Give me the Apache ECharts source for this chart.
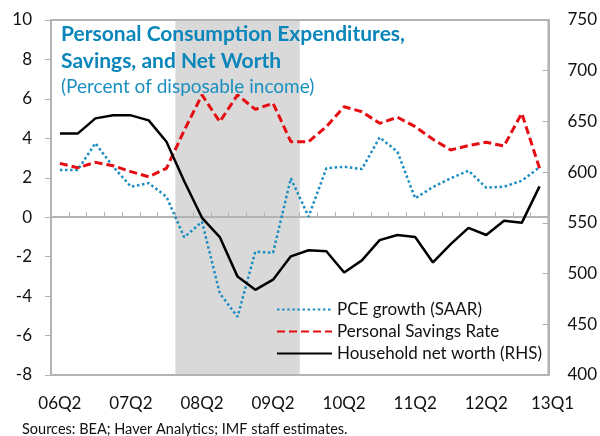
<!DOCTYPE html>
<html>
<head>
<meta charset="utf-8">
<script src="https://cdn.jsdelivr.net/npm/echarts@6/dist/echarts.min.js"></script>
<style>
  html, body { margin: 0; padding: 0; background: #fff; }
  #chart { width: 600px; height: 436px; }
</style>
</head>
<body>
<div id="chart"></div>
<script>
// quarters 06Q2 .. 13Q1
var quarters = ['06Q2', '06Q3', '06Q4', '07Q1', '07Q2', '07Q3', '07Q4',
  '08Q1', '08Q2', '08Q3', '08Q4', '09Q1', '09Q2', '09Q3', '09Q4',
  '10Q1', '10Q2', '10Q3', '10Q4', '11Q1', '11Q2', '11Q3', '11Q4',
  '12Q1', '12Q2', '12Q3', '12Q4', '13Q1']

var pceGrowth = [2.39, 2.39, 3.75, 2.56, 1.55, 1.73, 1.04, -1.02, -0.23, -3.86, -5.05, -1.75, -1.8, 1.97,
  0.03, 2.48, 2.56, 2.44, 4.05, 3.32, 0.96, 1.53, 1.97, 2.36, 1.5, 1.55, 1.85, 2.53]

var savingsRate = [2.73, 2.51, 2.78, 2.61, 2.31, 2.05, 2.48, 4.4, 6.2, 4.84, 6.2, 5.47, 5.78, 3.83,
  3.83, 4.59, 5.6, 5.35, 4.76, 5.07, 4.59, 3.95, 3.41, 3.63, 3.8, 3.61, 5.27, 2.48]

var netWorth = [638, 638, 653, 656, 656, 651, 630, 591, 555, 536, 497, 484, 494, 517,
  523, 522, 501, 513, 533, 538, 536, 511, 529, 545, 538, 552, 550, 586]

// recession shading, first and last quarter covered
var recessionStart = '08Q1'
var recessionEnd = '09Q3'

var leftTicks = [-8, -6, -4, -2, 0, 2, 4, 6, 8, 10]
var rightTicks = [400, 450, 500, 550, 600, 650, 700, 750]

var font = 'Lato'
var gray = '#b3b3b3'

var chart = echarts.init(document.getElementById('chart'))

var option = {
  animation: false,
  title: {
    text: 'Personal Consumption Expenditures,\nSavings, and Net Worth',
    subtext: '(Percent of disposable income)',
    left: 61,
    top: 21,
    padding: 0,
    itemGap: 0,
    textStyle: { fontFamily: font, fontWeight: 'bold', fontSize: 21, lineHeight: 27, color: '#0b86bb' },
    subtextStyle: { fontFamily: font, fontSize: 19, lineHeight: 24, color: '#1a8fc0' }
  },
  legend: {
    data: ['PCE growth (SAAR)', 'Personal Savings Rate', 'Household net worth (RHS)'],
    orient: 'vertical',
    left: 276,
    top: 301,
    padding: 0,
    itemWidth: 55,
    itemHeight: 14,
    itemGap: 5,
    itemStyle: { opacity: 0 },
    textStyle: { fontFamily: font, fontSize: 17, color: '#111' }
  },
  graphic: [{
    type: 'text',
    left: 22,
    top: 422,
    style: { text: 'Sources: BEA; Haver Analytics; IMF staff estimates.', font: '14.5px Lato', fill: '#111' }
  }],
  grid: {
    left: 51,
    right: 51,
    top: 20,
    bottom: 61,
    show: true,
    borderColor: gray,
    borderWidth: 2
  },
  xAxis: [{
    type: 'category',
    data: quarters,
    boundaryGap: true,
    axisLine: { show: false, onZero: false },
    axisTick: { show: false },
    axisLabel: {
      interval: function (i) { return i % 4 === 0 || i === quarters.length - 1 },
      margin: 20,
      fontFamily: font,
      fontSize: 17,
      color: '#111',
      formatter: function (v) { return v === '13Q1' ? '{last|' + v + '}' : v },
      rich: { last: { padding: [0, 0, 0, 26], fontFamily: font, fontSize: 17, color: '#111' } }
    }
  }, {
    type: 'category',
    data: quarters,
    boundaryGap: true,
    position: 'bottom',
    z: 3,
    axisLine: { onZero: true, onZeroAxisIndex: 0, lineStyle: { color: gray, width: 2 } },
    axisTick: { show: true, inside: true, length: 5, interval: 0, lineStyle: { color: gray, width: 1 } },
    axisLabel: { show: false }
  }, {
    type: 'value',
    min: 0,
    max: quarters.length,
    show: false
  }],
  yAxis: [{
    type: 'value',
    min: leftTicks[0],
    max: leftTicks[leftTicks.length - 1],
    interval: 2,
    axisLine: { show: true, lineStyle: { color: gray, width: 2 } },
    axisTick: { show: true, length: 6, lineStyle: { color: gray, width: 1 } },
    splitLine: { show: false },
    axisLabel: { margin: 19, fontFamily: font, fontSize: 17, color: '#111' }
  }, {
    type: 'value',
    position: 'right',
    min: rightTicks[0],
    max: rightTicks[rightTicks.length - 1],
    interval: 50,
    axisLine: { show: true, lineStyle: { color: gray, width: 2 } },
    axisTick: { show: true, inside: true, length: 6, lineStyle: { color: gray, width: 1 } },
    splitLine: { show: false },
    axisLabel: { margin: 19, fontFamily: font, fontSize: 17, color: '#111' }
  }],
  series: [{
    name: 'recession',
    type: 'line',
    xAxisIndex: 2,
    yAxisIndex: 0,
    data: [],
    silent: true,
    markArea: {
      silent: true,
      z: -1,
      itemStyle: { color: '#d9d9d9' },
      data: [[
        { xAxis: quarters.indexOf(recessionStart) },
        { xAxis: quarters.indexOf(recessionEnd) + 1 }
      ]]
    }
  }, {
    name: 'PCE growth (SAAR)',
    type: 'line',
    data: pceGrowth,
    symbol: 'none',
    lineStyle: { color: '#1a8dc1', width: 2.5, type: [2.5, 2.6] },
    itemStyle: { color: '#1a8dc1' }
  }, {
    name: 'Personal Savings Rate',
    type: 'line',
    data: savingsRate,
    symbol: 'none',
    lineStyle: { color: '#e50d12', width: 3, type: [8, 4] },
    itemStyle: { color: '#e50d12' }
  }, {
    name: 'Household net worth (RHS)',
    type: 'line',
    yAxisIndex: 1,
    data: netWorth,
    symbol: 'none',
    lineStyle: { color: '#000', width: 2.5 },
    itemStyle: { color: '#000' }
  }]
}

chart.setOption(option)
</script>
</body>
</html>
